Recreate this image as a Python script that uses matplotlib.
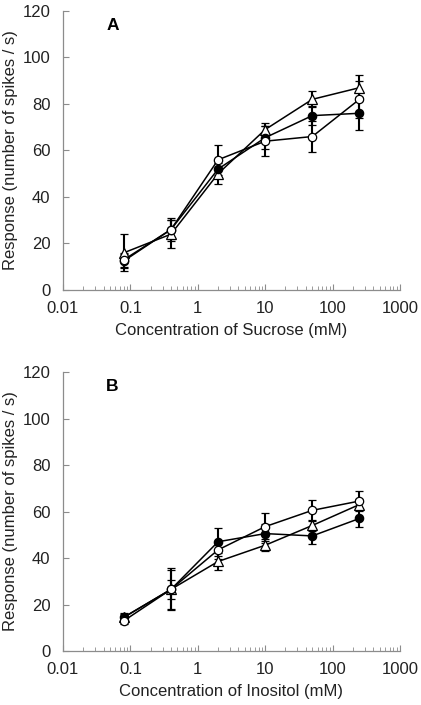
import matplotlib
matplotlib.use('Agg')
import matplotlib.pyplot as plt
from matplotlib.ticker import FixedLocator, FuncFormatter, LogLocator

plt.rcParams['font.family'] = ['Liberation Sans', 'DejaVu Sans']

conc = [0.08, 0.4, 2, 10, 50, 250]

# panel A - sucrose
a_filled = [12.5, 26, 52, 65.5, 75, 76]
a_filled_err = [3, 4, 4, 5, 4, 7]
a_open = [13, 26, 56, 64, 66, 82]
a_open_err = [3, 5, 6.5, 6.5, 6.5, 8]
a_tri = [16, 24, 50, 69, 82, 87]
a_tri_err = [8, 6, 4.5, 3, 3.5, 5.5]

# panel B - inositol
b_filled = [14.5, 26.5, 47, 50.5, 49.5, 57]
b_filled_err = [1.5, 4, 6, 4, 3.6, 3.5]
b_open = [13, 26.5, 43.5, 53.5, 60.5, 64.5]
b_open_err = [1.5, 9, 4, 6, 4.4, 4.3]
b_tri = [14.5, 26.5, 38.5, 45.5, 54, 63]
b_tri_err = [2, 8.5, 3.5, 2.5, 2.5, 2.5]

fig = plt.figure(figsize=(4.21, 7.05), dpi=100)
axA = fig.add_axes([0.1496, 0.5887, 0.8005, 0.3957])
axB = fig.add_axes([0.1496, 0.0766, 0.8005, 0.3957])


def panel(ax, series, letter, xlabel):
    for y, e, mk, fc in series:
        ax.errorbar(conc, y, yerr=e, color='black', lw=1.1, marker=mk,
                    ms=6 if mk == 'o' else 6.5, mfc=fc, mec='black', mew=0.9,
                    capsize=2.6, elinewidth=1.5, capthick=1.5)
    ax.set_xscale('log')
    ax.set_xlim(0.01, 1000)
    ax.set_ylim(0, 120)
    ax.set_yticks([0, 20, 40, 60, 80, 100, 120])
    ax.xaxis.set_major_locator(FixedLocator([0.01, 0.1, 1, 10, 100, 1000]))
    ax.xaxis.set_major_formatter(FuncFormatter(lambda v, p: '%g' % v))
    ax.xaxis.set_minor_locator(LogLocator(base=10, subs=range(2, 10), numticks=20))
    for s in ['top', 'right']:
        ax.spines[s].set_visible(False)
    for s in ['left', 'bottom']:
        ax.spines[s].set_color('#8c8c8c')
        ax.spines[s].set_linewidth(0.9)
    ax.tick_params(which='major', direction='in', length=4, color='#8c8c8c',
                   labelsize=12, labelcolor='#222222')
    ax.tick_params(axis='y', which='major', pad=9)
    ax.tick_params(axis='x', which='major', pad=8)
    ax.tick_params(which='minor', direction='in', length=3, color='#8c8c8c')
    ax.set_xlabel(xlabel, fontsize=12, color='#222222', labelpad=5)
    ax.set_ylabel('Response (number of spikes / s)', fontsize=12,
                  color='#222222', labelpad=3)
    ax.text(0.128, 0.975, letter, transform=ax.transAxes, fontsize=12.5,
            fontweight='bold', va='top', ha='left')


panel(axA, [(a_tri, a_tri_err, '^', 'white'),
            (a_filled, a_filled_err, 'o', 'black'),
            (a_open, a_open_err, 'o', 'white')],
      'A', 'Concentration of Sucrose (mM)')
panel(axB, [(b_tri, b_tri_err, '^', 'white'),
            (b_filled, b_filled_err, 'o', 'black'),
            (b_open, b_open_err, 'o', 'white')],
      'B', 'Concentration of Inositol (mM)')

fig.savefig('out.png', dpi=100)
